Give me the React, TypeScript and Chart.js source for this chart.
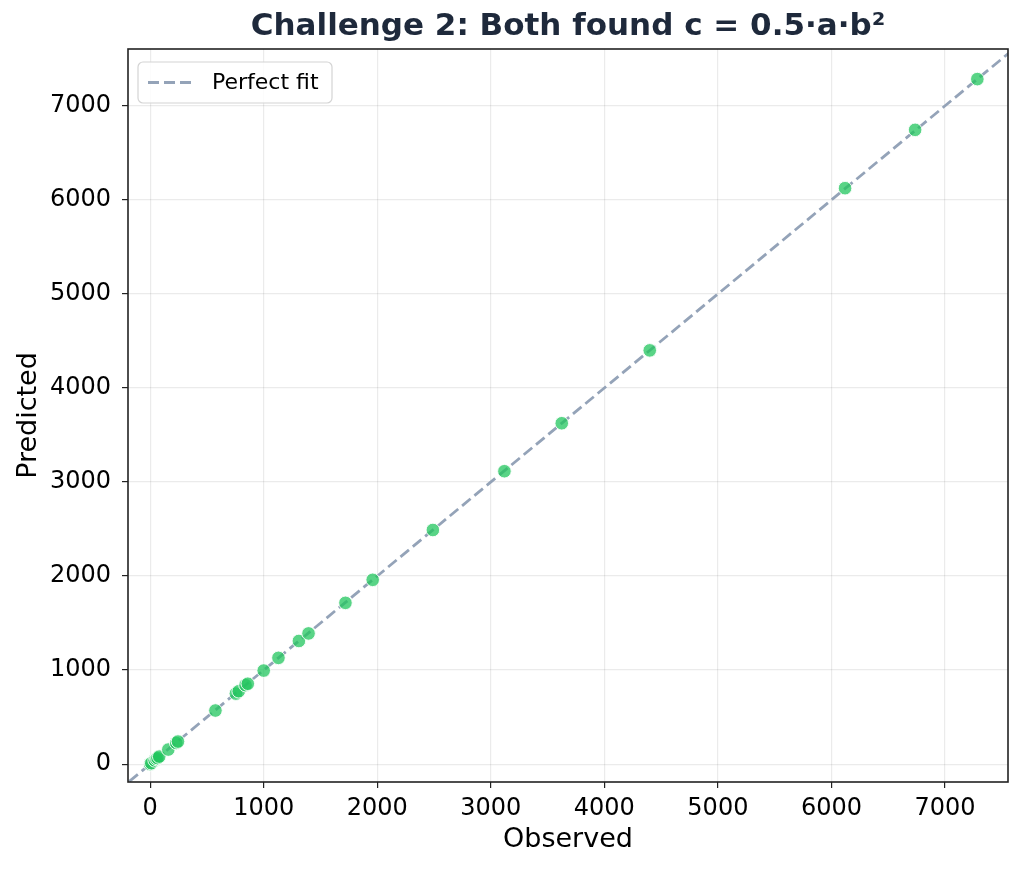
import { useEffect, useRef } from "react";
import { Chart, ChartConfiguration, registerables } from "chart.js";

Chart.register(...registerables);

// values
const observed = [0, 10, 40, 55, 65, 80, 160, 230, 245, 575, 755, 780, 840, 860, 1000, 1130, 1310, 1395, 1720, 1960, 2490, 3120, 3625, 4400, 6120, 6737, 7285];
const predicted = [0, 10, 40, 55, 65, 80, 155, 225, 240, 570, 750, 775, 840, 855, 995, 1130, 1310, 1390, 1715, 1960, 2490, 3115, 3625, 4400, 6125, 6745, 7285];
const fitRange = [-400, 8000];
const tickValues = [0, 1000, 2000, 3000, 4000, 5000, 6000, 7000];
const xLimits = [-195, 7555];
const yLimits = [-190, 7605];

const FONT = "'DejaVu Sans', sans-serif";
const LINE_COLOR = "#94a3b8";
const POINT_COLOR = "rgba(34, 197, 94, 0.75)";

const frameAndLegend = {
  id: "frameAndLegend",
  afterDraw(chart: Chart) {
    const { ctx, chartArea } = chart;
    const { left, top, right, bottom } = chartArea;
    ctx.save();
    // spines
    ctx.strokeStyle = "#222222";
    ctx.lineWidth = 1.6;
    ctx.strokeRect(left, top, right - left, bottom - top);

    // legend box
    const bx = left + 10, by = top + 13, bw = 194, bh = 41;
    ctx.fillStyle = "rgba(255,255,255,0.85)";
    ctx.strokeStyle = "#d4d4d4";
    ctx.lineWidth = 1.2;
    ctx.beginPath();
    ctx.roundRect(bx, by, bw, bh, 5);
    ctx.fill();
    ctx.stroke();

    ctx.strokeStyle = LINE_COLOR;
    ctx.lineWidth = 3;
    ctx.setLineDash([11, 5]);
    ctx.beginPath();
    ctx.moveTo(bx + 10, by + bh / 2);
    ctx.lineTo(bx + 55, by + bh / 2);
    ctx.stroke();
    ctx.setLineDash([]);

    ctx.fillStyle = "#000000";
    ctx.font = `22px ${FONT}`;
    ctx.textBaseline = "middle";
    ctx.fillText("Perfect fit", bx + 74, by + bh / 2 + 1);
    ctx.restore();
  },
};

export default function App() {
  const canvasRef = useRef<HTMLCanvasElement>(null);
  const chartRef = useRef<Chart | null>(null);

  useEffect(() => {
    document.body.style.margin = "0";
    if (!canvasRef.current) return;
    const ctx = canvasRef.current.getContext("2d");
    if (!ctx) return;

    if (chartRef.current) {
      chartRef.current.destroy();
    }

    const points = observed.map((o, i) => ({ x: o, y: predicted[i] }));
    const fitLine = fitRange.map((v) => ({ x: v, y: v }));

    const config: ChartConfiguration = {
      type: "scatter",
      data: {
        datasets: [
          {
            label: "Perfect fit",
            type: "line",
            data: fitLine,
            borderColor: LINE_COLOR,
            borderWidth: 2.8,
            borderDash: [11, 5],
            pointRadius: 0,
            fill: false,
            order: 2,
          },
          {
            label: "Data",
            data: points,
            backgroundColor: POINT_COLOR,
            borderColor: "rgba(255,255,255,0.9)",
            borderWidth: 1,
            pointRadius: 6.8,
            order: 1,
          },
        ],
      },
      options: {
        responsive: false,
        animation: false,
        layout: { padding: { top: 0, right: 17, bottom: 0, left: 0 } },
        plugins: {
          legend: { display: false },
          tooltip: { enabled: false },
          title: {
            display: true,
            fullSize: false,
            text: "Challenge 2: Both found c = 0.5·a·b²",
            color: "#1e293b",
            font: { family: FONT, size: 31, weight: "bold", lineHeight: 1.2 },
            padding: { top: 8, bottom: 3.8 },
          },
        },
        scales: {
          x: {
            type: "linear",
            min: xLimits[0],
            max: xLimits[1],
            afterBuildTicks: (scale) => {
              scale.ticks = tickValues.map((v) => ({ value: v }));
            },
            afterFit: (scale) => {
              scale.height = 89;
            },
            border: { display: false },
            grid: {
              color: "rgba(0,0,0,0.08)",
              tickColor: "#222222",
              tickLength: 6,
              lineWidth: 1.2,
            },
            ticks: {
              color: "#000000",
              font: { family: FONT, size: 24 },
              padding: 6,
              maxRotation: 0,
              callback: (v) => String(v),
            },
            title: {
              display: true,
              text: "Observed",
              color: "#000000",
              font: { family: FONT, size: 27 },
              padding: { top: 4, bottom: 14.8 },
            },
          },
          y: {
            type: "linear",
            min: yLimits[0],
            max: yLimits[1],
            afterBuildTicks: (scale) => {
              scale.ticks = tickValues.map((v) => ({ value: v }));
            },
            afterFit: (scale) => {
              scale.width = 128;
            },
            border: { display: false },
            grid: {
              color: "rgba(0,0,0,0.08)",
              tickColor: "#222222",
              tickLength: 6,
              lineWidth: 1.2,
            },
            ticks: {
              color: "#000000",
              font: { family: FONT, size: 24 },
              padding: 11,
              callback: (v) => String(v),
            },
            title: {
              display: true,
              text: "Predicted",
              color: "#000000",
              font: { family: FONT, size: 27 },
              padding: { top: 13, bottom: 13 },
            },
          },
        },
      },
      plugins: [frameAndLegend],
    };

    chartRef.current = new Chart(ctx, config);

    return () => {
      if (chartRef.current) {
        chartRef.current.destroy();
        chartRef.current = null;
      }
    };
  }, []);

  return (
    <div style={{ width: 1025, height: 871, background: "#ffffff" }}>
      <canvas ref={canvasRef} width={1025} height={871}></canvas>
    </div>
  );
}
